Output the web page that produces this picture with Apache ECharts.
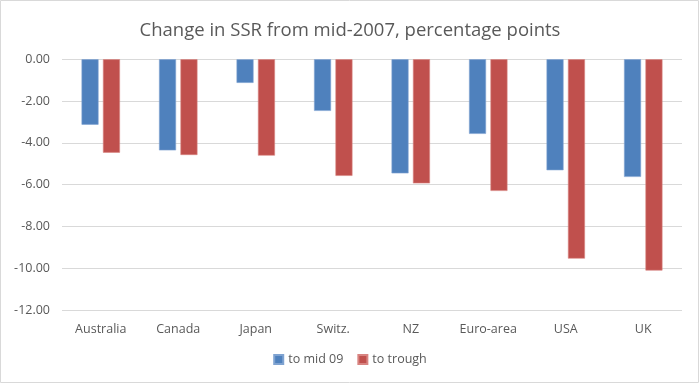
<!DOCTYPE html>
<html><head><meta charset="utf-8">
<script src="https://cdn.jsdelivr.net/npm/echarts@6/dist/echarts.min.js"></script>
<style>html,body{margin:0;padding:0;background:#fff}#c{width:700px;height:384px}</style>
</head><body><div id="c"></div>
<script>
const categories = ['Australia','Canada','Japan','Switz.','NZ','Euro-area','USA','UK'];
const toMid09 = [-3.13,-4.36,-1.13,-2.47,-5.46,-3.57,-5.31,-5.63];
const toTrough = [-4.47,-4.58,-4.61,-5.58,-5.94,-6.30,-9.54,-10.11];
const seriesNames = ['to mid 09','to trough'];
const chart = echarts.init(document.getElementById('c'));
const font = 'Open Sans';
chart.setOption({
  animation:false,
  title:{text:'Change in SSR from mid-2007, percentage points',left:'center',top:16,
    textStyle:{fontFamily:font,fontSize:18.5,fontWeight:'normal',color:'#595959'}},
  graphic:[{type:'rect',shape:{x:0.5,y:0.5,width:698,height:382},style:{fill:'none',stroke:'#D9D9D9',lineWidth:1}}],
  legend:{bottom:13,left:'center',itemWidth:9,itemHeight:9,itemGap:14,icon:'rect',
    textStyle:{fontFamily:font,fontSize:12.5,color:'#595959'},data:seriesNames},
  grid:{left:62,right:18,top:59.3,bottom:74},
  xAxis:{type:'category',data:categories,position:'bottom',
    axisLine:{show:false},axisTick:{show:false},
    axisLabel:{fontFamily:font,fontSize:12.5,color:'#595959',margin:13}},
  yAxis:{type:'value',min:-12,max:0,interval:2,
    axisLine:{show:false},axisTick:{show:false},
    splitLine:{lineStyle:{color:'#D9D9D9',width:1}},
    axisLabel:{fontFamily:font,fontSize:12.5,color:'#595959',margin:12,formatter:v=>v.toFixed(2)}},
  series:[
    {name:seriesNames[0],type:'bar',data:toMid09,barWidth:17,barGap:'26%',
      itemStyle:{color:'#4F81BD',borderColor:'#7FA3D1',borderWidth:0.6}},
    {name:seriesNames[1],type:'bar',data:toTrough,barWidth:17,
      itemStyle:{color:'#C0504D',borderColor:'#D88481',borderWidth:0.6}}
  ]
});
</script></body></html>
